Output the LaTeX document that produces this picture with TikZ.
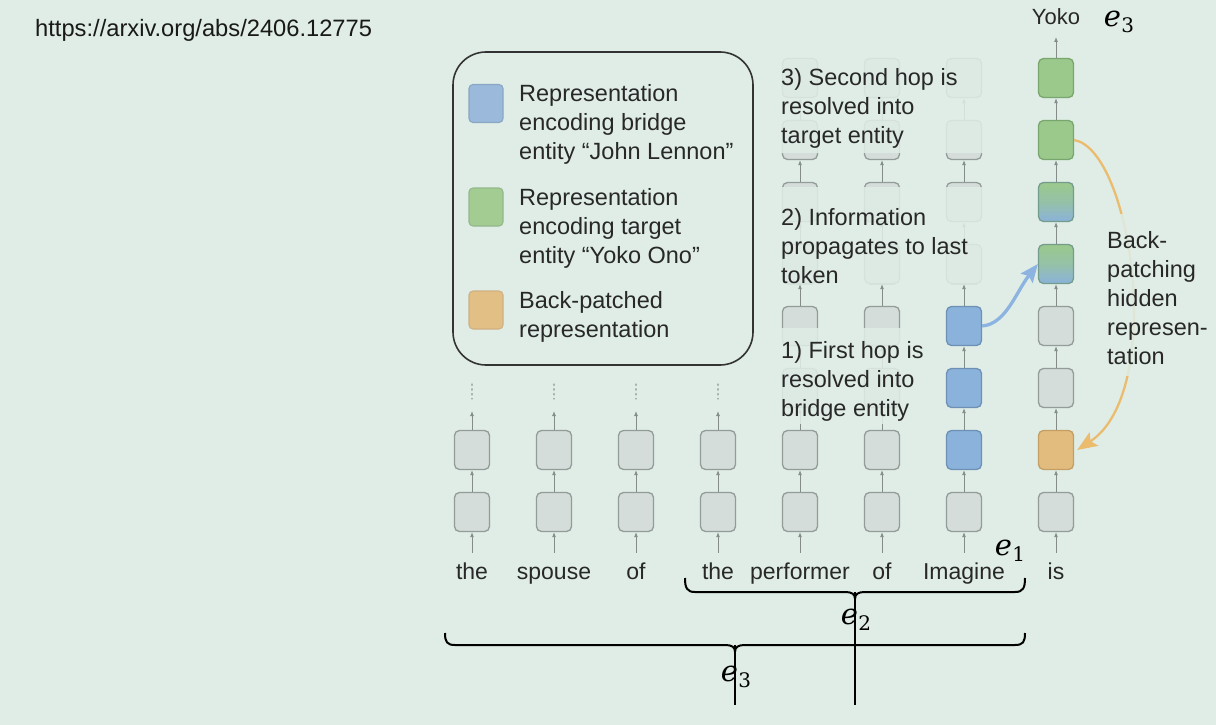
\documentclass[tikz,border=0pt]{standalone}
\usepackage{fontspec}
\setmainfont{Liberation Sans}
\newfontfamily\entfont{DejaVu Serif}
\newcommand\entlab[1]{{\itshape e}\kern0.5pt\raisebox{-6pt}{\fontsize{20}{22}\selectfont\upshape #1}}
\usetikzlibrary{arrows.meta}
\definecolor{bgc}{HTML}{DFEDE6}
\definecolor{gfill}{HTML}{D5DDDB}
\definecolor{gline}{HTML}{949C99}
\definecolor{bfill}{HTML}{8AB2DB}
\definecolor{bline}{HTML}{6D90B5}
\definecolor{tfill}{HTML}{9BC98C}
\definecolor{tline}{HTML}{79A66D}
\definecolor{ofill}{HTML}{E2BC7E}
\definecolor{oline}{HTML}{C49E62}
\definecolor{kb}{HTML}{9BBADB}
\definecolor{kg}{HTML}{A3CC93}
\definecolor{ko}{HTML}{E2BF85}
\definecolor{conc}{HTML}{838C89}
\definecolor{txt}{HTML}{282828}
\definecolor{barrow}{HTML}{8DB4E0}
\definecolor{oarrow}{HTML}{EBBB6E}
\tikzset{
 cell/.style={draw=gline, fill=gfill, line width=1.3pt, rounded corners=5pt, minimum width=35pt, minimum height=39pt, inner sep=0pt},
 bcell/.style={cell, draw=bline, fill=bfill},
 tcell/.style={cell, draw=tline, fill=tfill},
 ocell/.style={cell, draw=oline, fill=ofill},
 mcell/.style={cell, draw=tline!55!bline, top color=tfill, bottom color=bfill, middle color=tfill!65!bfill},
 keybox/.style={minimum width=34pt, minimum height=38pt, rounded corners=4pt, line width=1.1pt},
 conn/.style={draw=conc, line width=0.9pt, -{Latex[length=5pt,width=4pt]}},
 vdots/.style={draw=conc!70, line width=1.3pt, dash pattern=on 1.3pt off 3.5pt, line cap=round},
 mask/.style={fill=bgc, fill opacity=0.87},
 lbl/.style={font=\fontsize{23.5}{29}\selectfont, text=txt, inner sep=0pt, align=left, anchor=north west},
 word/.style={font=\fontsize{23}{28}\selectfont, text=txt, anchor=base, text height=17pt, text depth=5pt, inner xsep=0pt, inner ysep=9pt},
 ent/.style={font=\entfont\fontsize{29}{32}\selectfont, inner sep=0pt},
 bracepath/.style={line width=2pt, black},
 stem/.style={line width=1.4pt, black},
 legbox/.style={draw=black!80, line width=1.6pt, rounded corners=33pt, minimum width=300pt, minimum height=313pt, inner sep=0pt},
}
\begin{document}
\begin{tikzpicture}[x=1pt,y=-1pt]
\useasboundingbox (0,0) rectangle (1216,725);
\fill[bgc] (0,0) rectangle (1216,725);

% source
\node[font=\fontsize{23.7}{28}\selectfont, text=black!90, anchor=base west, inner sep=0pt] (url) at (35,37) {https://arxiv.org/abs/2406.12775};

% legend
\node[legbox] (legend) at (603,208.5) {};
\node[cell, keybox, draw=bline!80, fill=kb] (k1) at (486,103.5) {};
\node[cell, keybox, draw=tline!80, fill=kg] (k2) at (486,207) {};
\node[cell, keybox, draw=oline!80, fill=ko] (k3) at (486,310) {};
\node[lbl] (l1) at (519,84.7) {Representation\\encoding bridge\\entity “John Lennon”};
\node[lbl] (l2) at (519,188) {Representation\\encoding target\\entity “Yoko Ono”};
\node[lbl] (l3) at (519,291) {Back-patched\\representation};

% left columns (two layers)
\foreach \col/\xx in {1/472,2/554,3/636,4/718}{
  \node[cell] (b\col-1) at (\xx,512) {};
  \node[cell] (b\col-2) at (\xx,450) {};
  \coordinate (t\col) at (\xx,411);
  \draw[conn] (b\col-1.north) -- (b\col-2.south);
  \draw[conn] (b\col-2.north) -- (t\col);
  \draw[vdots] (\xx,384) -- (\xx,399);
}
% performer / of columns
\foreach \col/\xx in {5/800,6/882}{
  \foreach \r in {1,...,8}{\node[cell] (b\col-\r) at (\xx,{574-62*\r}) {};}
  \foreach \r in {1,...,7}{\pgfmathtruncatemacro{\rn}{\r+1}\draw[conn] (b\col-\r.north) -- (b\col-\rn.south);}
}
% Imagine column
\foreach \r/\s in {1/cell,2/bcell,3/bcell,4/bcell,5/cell,6/cell,7/cell,8/cell}{
  \node[\s] (b7-\r) at (964,{574-62*\r}) {};}
\foreach \r in {1,...,7}{\pgfmathtruncatemacro{\rn}{\r+1}\draw[conn] (b7-\r.north) -- (b7-\rn.south);}
% is column
\foreach \r/\s in {1/cell,2/ocell,3/cell,4/cell,5/mcell,6/mcell,7/tcell,8/tcell}{
  \node[\s] (b8-\r) at (1056,{574-62*\r}) {};}
\foreach \r in {1,...,7}{\pgfmathtruncatemacro{\rn}{\r+1}\draw[conn] (b8-\r.north) -- (b8-\rn.south);}

% output
\node[font=\fontsize{22}{26}\selectfont, text=txt, anchor=base, inner sep=0pt] (yoko) at (1056,25) {Yoko};
\coordinate (yk) at (1056,37);
\draw[conn] (b8-8.north) -- (yk);
\node[ent] (etop) at (1119,22) {\entlab{3}};

% curved arrows
\draw[oarrow, line width=2.3pt, -{Stealth[length=20pt,width=16pt,inset=4pt]}]
  (b8-7.east) .. controls (1132,150) and (1166,392) .. ([xshift=3pt]b8-2.east);
\draw[barrow, line width=3.3pt, -{Stealth[length=18pt,width=15pt,inset=3pt]}]
  (b7-4.east) .. controls (1006,324) and (1016,292) .. (b8-5.west);

% text backgrounds
\fill[mask] (770,50) rectangle (992,153);
\fill[mask] (770,187) rectangle (992,284);
\fill[mask] (770,328) rectangle (942,424);
\fill[mask] (1095,214) rectangle (1216,376);

% step labels
\node[lbl] (s3) at (781,68) {3) Second hop is\\resolved into\\target entity};
\node[lbl] (s2) at (781,208) {2) Information\\propagates to last\\token};
\node[lbl] (s1) at (781,341) {1) First hop is\\resolved into\\bridge entity};
\node[lbl] (bp) at (1107,231) {Back-\\patching\\hidden\\represen-\\tation};

% words
\foreach \col/\xx/\w in {1/472/the,2/554/spouse,3/636/of,4/718/the,5/800/performer,6/882/of,7/964/Imagine,8/1056/is}{
  \node[word] (w\col) at (\xx,579) {\w};
  \draw[conn] (w\col.north) -- (b\col-1.south);
}

% braces
\draw[bracepath] (685,578) .. controls (685,588) and (687,592) .. (695,592) -- (845,592)
  .. controls (852,592) and (855,594) .. (855,599) .. controls (855,594) and (858,592) .. (865,592)
  -- (1015,592) .. controls (1023,592) and (1025,588) .. (1025,578);
\draw[bracepath] (445,633) .. controls (445,642) and (447,645) .. (455,645) -- (725,645)
  .. controls (732,645) and (735,647) .. (735,652) .. controls (735,647) and (738,645) .. (745,645)
  -- (1015,645) .. controls (1023,645) and (1025,642) .. (1025,633);
\draw[stem] (855,592) -- (855,705);
\draw[stem] (735,645) -- (735,705);
\node[ent] (e1) at (1010,551) {\entlab{1}};
\node[ent] (e2) at (856,620) {\entlab{2}};
\node[ent] (e3) at (736,677) {\entlab{3}};
\end{tikzpicture}
\end{document}
